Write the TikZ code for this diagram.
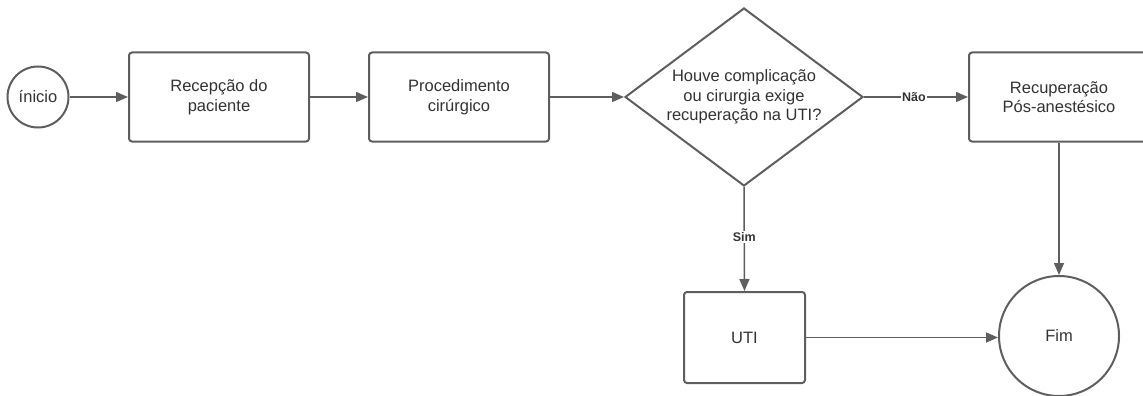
\documentclass[tikz,border=0pt]{standalone}
\usepackage{fontspec}
\setmainfont{Liberation Sans}
\usetikzlibrary{shapes.geometric,arrows.meta}
\definecolor{edge}{HTML}{5E5E5E}
\definecolor{ink}{HTML}{333333}
\begin{document}
\begin{tikzpicture}[x=1pt,y=-1pt,
  base/.style={draw=edge,line width=2pt,fill=white,text=ink,inner sep=0pt,align=center,
    font=\fontsize{16.5}{19.5}\selectfont},
  procbox/.style={base,rectangle,rounded corners=3pt,minimum width=180pt,minimum height=89pt},
  smallbox/.style={base,rectangle,rounded corners=3pt,minimum width=121pt,minimum height=91pt},
  termcircle/.style={base,circle},
  decision/.style={base,diamond,aspect=1.337,minimum width=238pt,minimum height=178pt},
  flow/.style={draw=edge,line width=1.5pt,-{Triangle[length=12pt,width=10pt]}},
  tag/.style={fill=white,text=ink,inner sep=1pt,font=\fontsize{12.5}{14}\selectfont\bfseries}]
\useasboundingbox (0,0) rectangle (1143,396);

\node[termcircle,minimum size=61pt] (start) at (38,97) {ínicio};
\node[procbox] (recv) at (219,97) {Recepção do\\paciente};
\node[procbox] (proc) at (459,97) {Procedimento\\cirúrgico};
\node[decision] (dec) at (744,97) {Houve complicação\\ou cirurgia exige\\recuperação na UTI?};
\node[procbox] (rpa) at (1059,97) {Recuperação\\Pós-anestésico};
\node[smallbox] (uti) at (744.5,337.5) {UTI};
\node[termcircle,minimum size=120pt] (fim) at (1059,336) {Fim};

\draw[flow] (start) -- (recv);
\draw[flow] (recv) -- (proc);
\draw[flow] (proc) -- (dec);
\draw[flow] (dec.east) -- node[tag,pos=0.48] {Não} (rpa.west);
\draw[flow] (dec.south) -- node[tag,pos=0.48] {Sim} (uti.north);
\draw[flow] (rpa.south) -- (fim.north);
\draw[flow] (uti.east) -- (fim.west |- uti.east);
\end{tikzpicture}
\end{document}
